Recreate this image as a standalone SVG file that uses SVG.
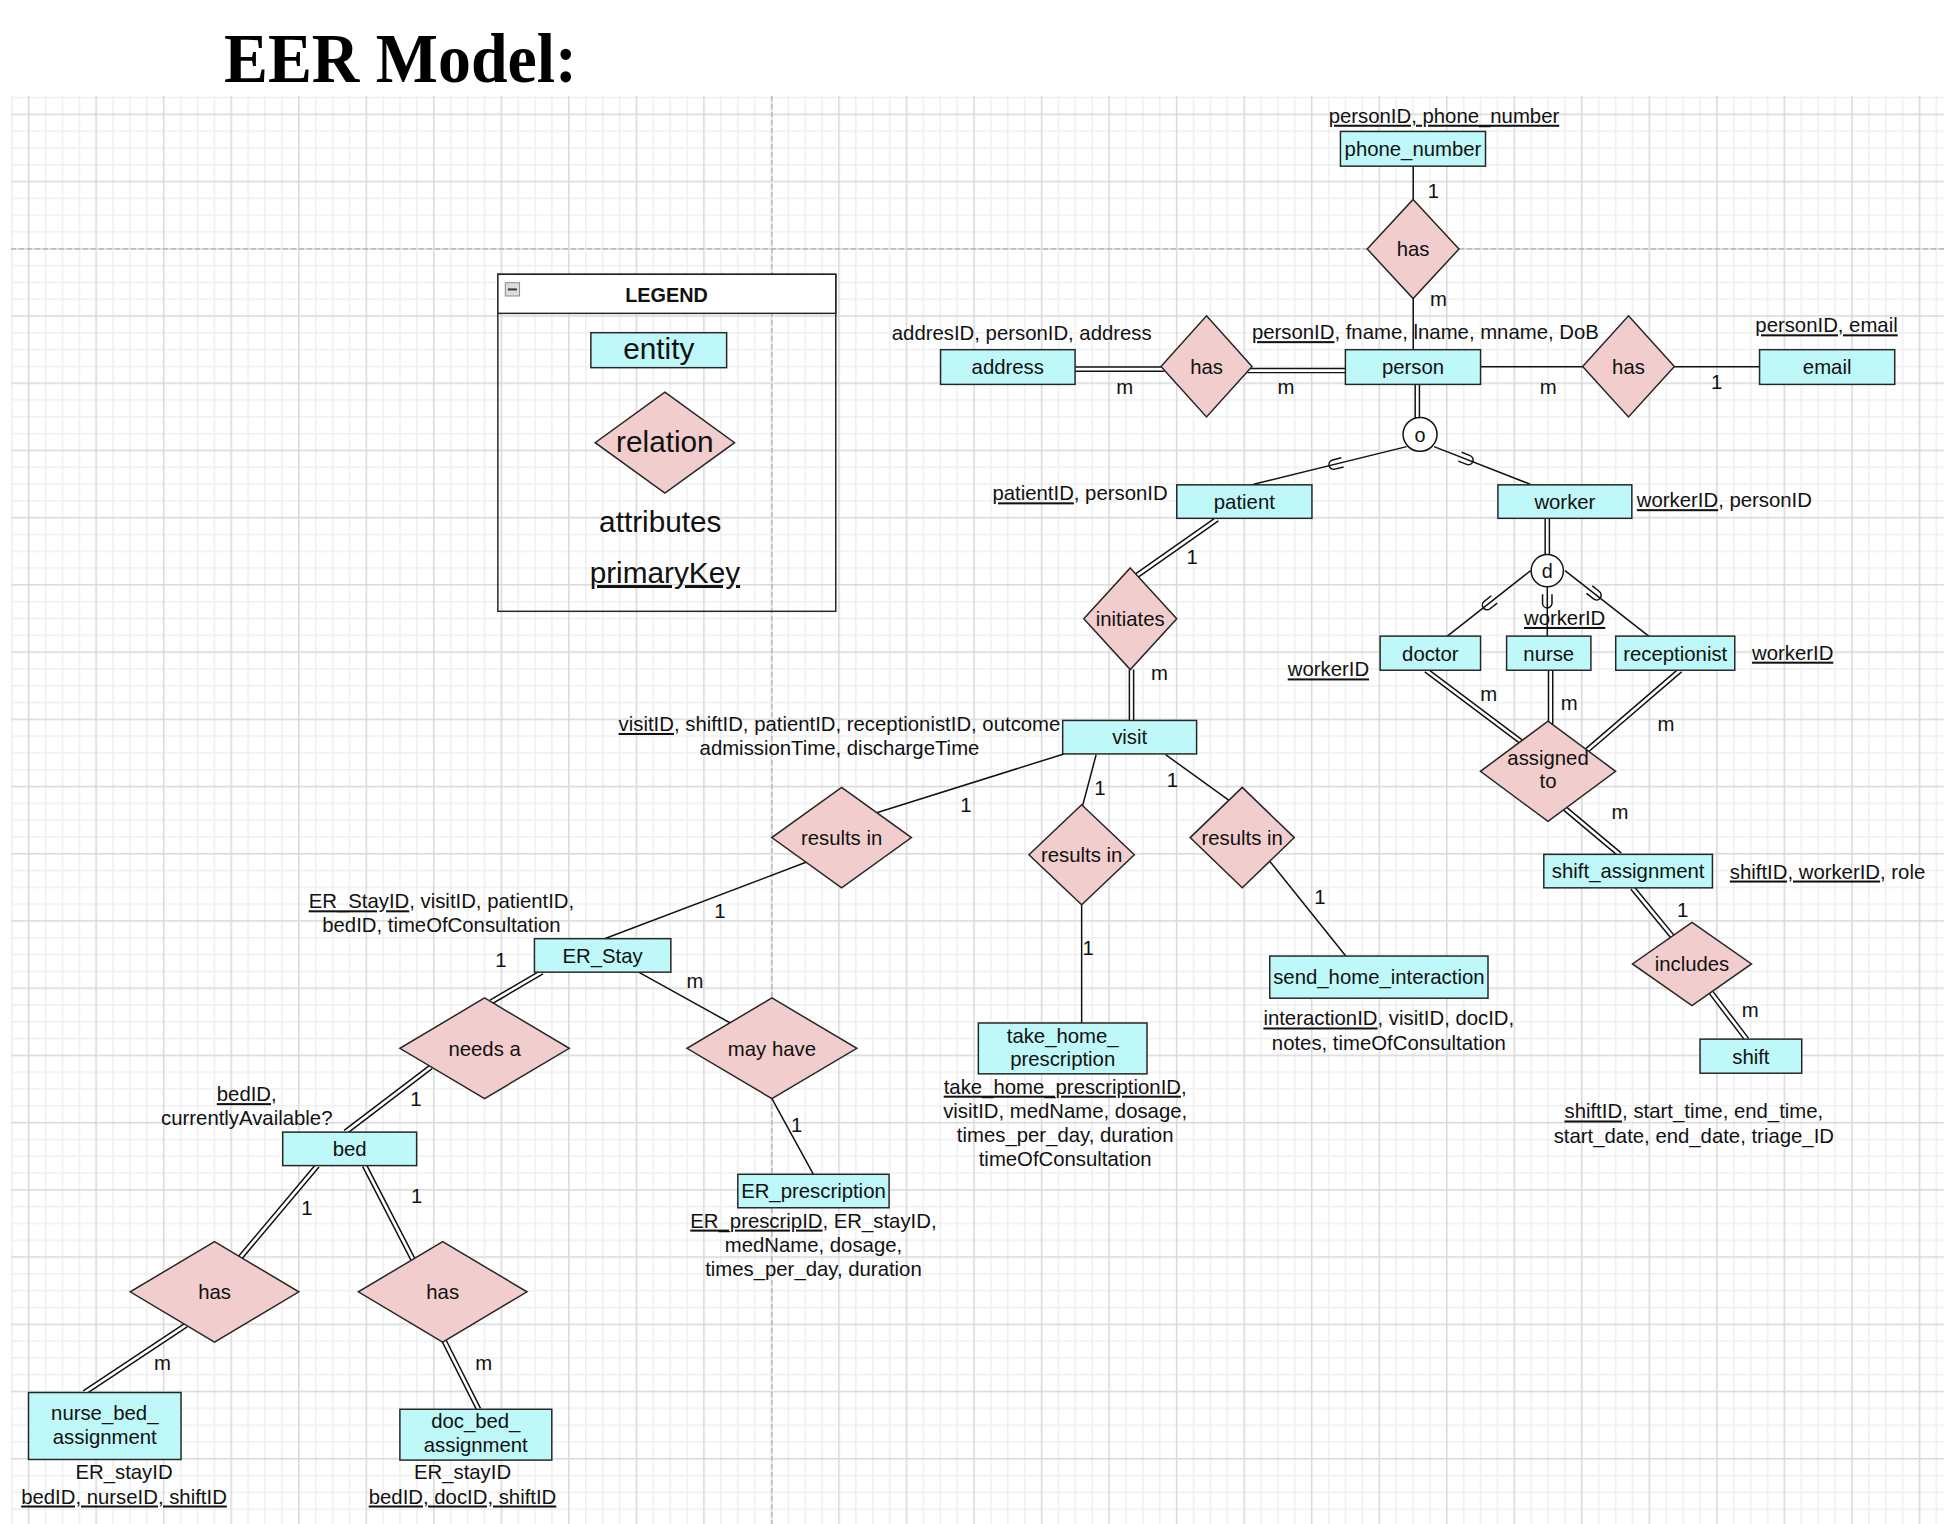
<svg xmlns="http://www.w3.org/2000/svg" width="1944" height="1524" viewBox="0 0 1944 1524">
<defs>
<pattern id="grid" patternUnits="userSpaceOnUse" x="27.85" y="113.55" width="67.53" height="67.22">
<path d="M17.63 0V67.22M34.52 0V67.22M51.4 0V67.22M0 17.55H67.53M0 34.35H67.53M0 51.15H67.53" stroke="#efefef" stroke-width="1.6" fill="none"/>
<path d="M0.75 0V67.22M0 0.75H67.53" stroke="#d8d8d8" stroke-width="1.5" fill="none"/>
</pattern>
<path id="sub" d="M-3.8 -5.8V1.5A3.8 3.8 0 0 0 3.8 1.5V-5.8" fill="none" stroke="#111" stroke-width="1.2"/>
</defs>
<style>
.ent{fill:#bef8f9;stroke:#262626;stroke-width:1.2}
.rel{fill:#f1cdcd;stroke:#262626;stroke-width:1.2}
.t{font-family:"Liberation Sans",Arial,Helvetica,sans-serif;font-size:16.4px;fill:#111}
.c{text-anchor:middle}
.ln{stroke:#111;stroke-width:1.2;fill:none}
.db{stroke:#111;stroke-width:4.6;fill:none}
.dw{stroke:#fff;stroke-width:2.2;fill:none}
.u{text-decoration:underline}
.big{font-size:24px}
</style>
<rect width="1944" height="1524" fill="#fff"/>
<g id="grid-bg">
<rect x="11" y="96" width="1933" height="1428" fill="url(#grid)"/>
<path d="M772 96V1524M11 249H1944" stroke="#b5b5b5" stroke-width="1.3" stroke-dasharray="5 3" fill="none"/>
</g>
<text x="224" y="82" font-family="'Liberation Serif','Times New Roman',serif" font-weight="bold" font-size="70" textLength="353" lengthAdjust="spacingAndGlyphs" fill="#000">EER Model:</text>
<g id="diagram" transform="scale(1.24)">
<g id="connectors">
<path class="ln" d="M1139.7 134V161M1139.7 240.8V282M1194 295.7H1277M1350 295.7H1419M1134.4 360.2L1011 390.5M1156.5 360.2L1234 390.5M1234.4 460.2L1166.7 513.4M1247.8 473V513.4M1262.1 460.2L1330.1 513.4M858 608L707 655.5M650 695.4L487.5 757M884 608.6L873 650M872.3 729.6V825M940 608.6L992 646M1024 694.6L1085.3 771M515 784L589 825M622.5 886L656 947"/>
<path class="db" d="M867 297.7H939M1006 298.8H1085M1143 310V338M1247.8 418V448M981.6 418.6L917 464M912.5 540V581M1150 540.5L1226.5 598M1250.5 540.5V584M1355 540.5L1280 605M1262 652L1306.5 689.3M1316.5 716L1348.5 755M1380 800.5L1408.7 838.2M437 784L396 808M347.5 860.5L278.5 913M256 940L194 1013.8M294 940L333 1015.6M150 1068.6L68 1123M357.5 1080L386 1136.5"/>
<path class="dw" d="M867 297.7H939M1006 298.8H1085M1143 310V338M1247.8 418V448M981.6 418.6L917 464M912.5 540V581M1150 540.5L1226.5 598M1250.5 540.5V584M1355 540.5L1280 605M1262 652L1306.5 689.3M1316.5 716L1348.5 755M1380 800.5L1408.7 838.2M437 784L396 808M347.5 860.5L278.5 913M256 940L194 1013.8M294 940L333 1015.6M150 1068.6L68 1123M357.5 1080L386 1136.5"/>
<use href="#sub" transform="translate(1077 374.3) rotate(76.2)"/>
<use href="#sub" transform="translate(1182.8 370.4) rotate(-68.8)"/>
<use href="#sub" transform="translate(1200.5 487) rotate(51.8)"/>
<use href="#sub" transform="translate(1247.8 485)"/>
<use href="#sub" transform="translate(1286.3 479.1) rotate(-52)"/>
<g class="t c">
<text x="1156" y="160">1</text>
<text x="1160" y="246.5">m</text>
<text x="907" y="318">m</text>
<text x="1037" y="318">m</text>
<text x="1248.5" y="318">m</text>
<text x="1384.5" y="313.5">1</text>
<text x="961.5" y="454.5">1</text>
<text x="935" y="548.5">m</text>
<text x="779" y="655">1</text>
<text x="887" y="641">1</text>
<text x="945.5" y="634.5">1</text>
<text x="1064.5" y="729">1</text>
<text x="580.5" y="740">1</text>
<text x="404" y="780">1</text>
<text x="560.5" y="796.5">m</text>
<text x="877.5" y="770">1</text>
<text x="1200.5" y="565.5">m</text>
<text x="1265.5" y="572.5">m</text>
<text x="1343.5" y="589.5">m</text>
<text x="1306.5" y="660.5">m</text>
<text x="1357" y="739.5">1</text>
<text x="1411.5" y="820.5">m</text>
<text x="642.5" y="912.5">1</text>
<text x="335.5" y="892">1</text>
<text x="247.5" y="980">1</text>
<text x="336" y="970">1</text>
<text x="131" y="1104.5">m</text>
<text x="390" y="1104.5">m</text>
</g>
</g>
<g id="legend">
<rect x="401.5" y="221.2" width="272.5" height="271.8" fill="none" stroke="#262626" stroke-width="1.2"/>
<rect x="401.5" y="221.2" width="272.5" height="31.5" fill="#fff" stroke="#262626" stroke-width="1.2"/>
<rect x="407.5" y="228" width="11.5" height="10.7" fill="#dcdcdc" stroke="#8a8a8a" stroke-width="0.8"/>
<path d="M409.6 233.4H416.9" stroke="#333" stroke-width="1.6"/>
<text class="t c" x="537.5" y="243.3" font-weight="bold" style="font-size:16px">LEGEND</text>
<rect class="ent" x="476.5" y="268.3" width="109.5" height="28.2"/>
<text class="t c big" x="531.3" y="289.8">entity</text>
<polygon class="rel" points="536.2,316.3 592.4,357 536.2,397.7 480,357"/>
<text class="t c big" x="536.2" y="364.8">relation</text>
<text class="t c big" x="532.5" y="429">attributes</text>
<text class="t c big" x="536.2" y="470.2"><tspan class="u">primaryKey</tspan></text>
</g>
<g id="n-phone_number">
<rect class="ent" x="1081" y="106" width="117" height="28"/>
<text class="t c" x="1139.5" y="125.9">phone_number</text>
<text class="t c" x="1164.5" y="99"><tspan class="u">personID, phone_number</tspan></text>
</g>
<g id="n-has-phone">
<polygon class="rel" points="1139.6,160.8 1176.6,200.8 1139.6,240.8 1102.6,200.8"/>
<text class="t c" x="1139.6" y="206.7">has</text>
</g>
<g id="n-person">
<rect class="ent" x="1085" y="282" width="109" height="28"/>
<text class="t c" x="1139.5" y="301.9">person</text>
<text class="t c" x="1149.5" y="273.5"><tspan class="u">personID</tspan>, fname, lname, mname, DoB</text>
</g>
<g id="n-address">
<rect class="ent" x="758.5" y="282" width="108.5" height="28"/>
<text class="t c" x="812.7" y="301.9">address</text>
<text class="t c" x="824" y="274">addresID, personID, address</text>
</g>
<g id="n-has-address">
<polygon class="rel" points="973,254.7 1009.7,295.5 973,336.3 936.3,295.5"/>
<text class="t c" x="973" y="301.4">has</text>
</g>
<g id="n-has-email">
<polygon class="rel" points="1313.3,254.7 1350.3,295.5 1313.3,336.3 1276.3,295.5"/>
<text class="t c" x="1313.3" y="301.4">has</text>
</g>
<g id="n-email">
<rect class="ent" x="1419" y="282" width="109" height="28"/>
<text class="t c" x="1473.5" y="301.9">email</text>
<text class="t c" x="1473" y="268"><tspan class="u">personID, email</tspan></text>
</g>
<g id="n-overlap">
<circle cx="1145.2" cy="350.3" r="13.7" fill="#fff" stroke="#111" stroke-width="1.2"/>
<text class="t c" x="1145.2" y="356.2" style="font-size:16px">o</text>
</g>
<g id="n-patient">
<rect class="ent" x="949" y="391" width="109" height="27"/>
<text class="t c" x="1003.5" y="410.4">patient</text>
<text class="t c" x="871" y="403.5"><tspan class="u">patientID</tspan>, personID</text>
</g>
<g id="n-worker">
<rect class="ent" x="1208" y="391" width="108" height="27"/>
<text class="t c" x="1262" y="410.4">worker</text>
<text class="t" x="1320" y="409"><tspan class="u">workerID</tspan>, personID</text>
</g>
<g id="n-disjoint">
<circle cx="1247.8" cy="460.2" r="13" fill="#fff" stroke="#111" stroke-width="1.2"/>
<text class="t c" x="1247.8" y="466" style="font-size:16px">d</text>
</g>
<g id="n-doctor">
<rect class="ent" x="1113" y="513" width="81" height="27.5"/>
<text class="t c" x="1153.5" y="532.7">doctor</text>
<text class="t c" x="1071.3" y="545.5"><tspan class="u">workerID</tspan></text>
</g>
<g id="n-nurse">
<rect class="ent" x="1215" y="513" width="68" height="27.5"/>
<text class="t c" x="1249" y="532.7">nurse</text>
<text class="t c" x="1261.8" y="504"><tspan class="u">workerID</tspan></text>
</g>
<g id="n-receptionist">
<rect class="ent" x="1303" y="513" width="96" height="27.5"/>
<text class="t c" x="1351" y="532.7">receptionist</text>
<text class="t c" x="1445.7" y="532"><tspan class="u">workerID</tspan></text>
</g>
<g id="n-initiates">
<polygon class="rel" points="911.5,458 949,499 911.5,540 874,499"/>
<text class="t c" x="911.5" y="505">initiates</text>
</g>
<g id="n-visit">
<rect class="ent" x="857" y="581" width="108" height="27"/>
<text class="t c" x="911" y="600.4">visit</text>
<text class="t c" x="677" y="589.5"><tspan class="u">visitID</tspan>, shiftID, patientID, receptionistID, outcome</text>
<text class="t c" x="677" y="609">admissionTime, dischargeTime</text>
</g>
<g id="n-assigned-to">
<polygon class="rel" points="1248.4,581.6 1302.9,622 1248.4,662.4 1193.9,622"/>
<text class="t c" x="1248.4" y="616.7">assigned</text>
<text class="t c" x="1248.4" y="635.5">to</text>
</g>
<g id="n-shift_assignment">
<rect class="ent" x="1245" y="689" width="136" height="27"/>
<text class="t c" x="1313" y="708.4">shift_assignment</text>
<text class="t" x="1395" y="708.5"><tspan class="u">shiftID, workerID</tspan>, role</text>
</g>
<g id="n-includes">
<polygon class="rel" points="1364.5,743.8 1412.5,777.4 1364.5,811 1316.5,777.4"/>
<text class="t c" x="1364.5" y="783.3">includes</text>
</g>
<g id="n-shift">
<rect class="ent" x="1371" y="838" width="82" height="27.5"/>
<text class="t c" x="1412" y="857.7">shift</text>
<text class="t c" x="1366" y="902"><tspan class="u">shiftID</tspan>, start_time, end_time,</text>
<text class="t c" x="1366" y="921.5">start_date, end_date, triage_ID</text>
</g>
<g id="n-results-in-er">
<polygon class="rel" points="678.7,635 735,675.5 678.7,716 622.4,675.5"/>
<text class="t c" x="678.7" y="681.4">results in</text>
</g>
<g id="n-results-in-take">
<polygon class="rel" points="872.3,649 914.8,689.3 872.3,729.6 829.8,689.3"/>
<text class="t c" x="872.3" y="695.2">results in</text>
</g>
<g id="n-results-in-send">
<polygon class="rel" points="1001.8,635 1043.8,675.5 1001.8,716 959.8,675.5"/>
<text class="t c" x="1001.8" y="681.4">results in</text>
</g>
<g id="n-send_home_interaction">
<rect class="ent" x="1024" y="771" width="176" height="34"/>
<text class="t c" x="1112" y="793.9">send_home_interaction</text>
<text class="t c" x="1120" y="827"><tspan class="u">interactionID</tspan>, visitID, docID,</text>
<text class="t c" x="1120" y="846.5">notes, timeOfConsultation</text>
</g>
<g id="n-take_home_prescription">
<rect class="ent" x="789" y="825" width="136" height="41"/>
<text class="t c" x="857" y="841">take_home_</text>
<text class="t c" x="857" y="860">prescription</text>
<text class="t c" x="859" y="882"><tspan class="u">take_home_prescriptionID</tspan>,</text>
<text class="t c" x="859" y="901.5">visitID, medName, dosage,</text>
<text class="t c" x="859" y="921">times_per_day, duration</text>
<text class="t c" x="859" y="940.5">timeOfConsultation</text>
</g>
<g id="n-er_stay">
<rect class="ent" x="431" y="757" width="110" height="27"/>
<text class="t c" x="486" y="776.4">ER_Stay</text>
<text class="t c" x="356" y="732.5"><tspan class="u">ER_StayID</tspan>, visitID, patientID,</text>
<text class="t c" x="356" y="752">bedID, timeOfConsultation</text>
</g>
<g id="n-needs-a">
<polygon class="rel" points="390.8,804.8 459.1,845.4 390.8,886 322.5,845.4"/>
<text class="t c" x="390.8" y="851.3">needs a</text>
</g>
<g id="n-may-have">
<polygon class="rel" points="622.5,804.8 691,845.4 622.5,886 554,845.4"/>
<text class="t c" x="622.5" y="851.3">may have</text>
</g>
<g id="n-er_prescription">
<rect class="ent" x="595" y="947" width="122" height="27"/>
<text class="t c" x="656" y="966.4">ER_prescription</text>
<text class="t c" x="656" y="990"><tspan class="u">ER_prescripID</tspan>, ER_stayID,</text>
<text class="t c" x="656" y="1009.5">medName, dosage,</text>
<text class="t c" x="656" y="1029">times_per_day, duration</text>
</g>
<g id="n-bed">
<rect class="ent" x="228" y="913" width="108" height="27"/>
<text class="t c" x="282" y="932.4">bed</text>
<text class="t c" x="199" y="888"><tspan class="u">bedID</tspan>,</text>
<text class="t c" x="199" y="907.5">currentlyAvailable?</text>
</g>
<g id="n-has-nurse">
<polygon class="rel" points="173,1001.3 241,1041.8 173,1082.3 105,1041.8"/>
<text class="t c" x="173" y="1047.7">has</text>
</g>
<g id="n-has-doc">
<polygon class="rel" points="357,1001.3 425,1041.8 357,1082.3 289,1041.8"/>
<text class="t c" x="357" y="1047.7">has</text>
</g>
<g id="n-nurse_bed_assignment">
<rect class="ent" x="23" y="1123" width="123" height="54"/>
<text class="t c" x="84.5" y="1145.2">nurse_bed_</text>
<text class="t c" x="84.5" y="1164.5">assignment</text>
<text class="t c" x="100" y="1193">ER_stayID</text>
<text class="t c" x="100" y="1212.5"><tspan class="u">bedID, nurseID, shiftID</tspan></text>
</g>
<g id="n-doc_bed_assignment">
<rect class="ent" x="322.5" y="1136.5" width="122.5" height="41"/>
<text class="t c" x="383.7" y="1152">doc_bed_</text>
<text class="t c" x="383.7" y="1171">assignment</text>
<text class="t c" x="373" y="1193">ER_stayID</text>
<text class="t c" x="373" y="1212.5"><tspan class="u">bedID, docID, shiftID</tspan></text>
</g>
</g>
</svg>
